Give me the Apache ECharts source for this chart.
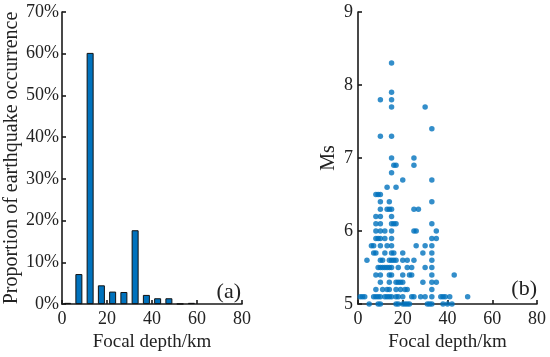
<!DOCTYPE html>
<html><head><meta charset="utf-8">
<script src="https://cdn.jsdelivr.net/npm/echarts@6/dist/echarts.min.js"></script>
<style>html,body{margin:0;padding:0;background:#fff}#c{width:550px;height:357px}</style>
</head><body><div id="c"></div>
<script>
// Histogram (a): bin centres (km) and proportion (%)
const binCenters = [2.5, 7.5, 12.5, 17.5, 22.5, 27.5, 32.5, 37.5, 42.5, 47.5, 52.5, 57.5];
const binPercent = [0.3, 7.2, 60.2, 4.5, 3.0, 2.9, 17.7, 2.2, 1.4, 1.4, 0.1, 0.3];
const depthTicks = [0, 20, 40, 60, 80];
const percentTicks = [0, 10, 20, 30, 40, 50, 60, 70];

// Scatter (b): magnitude rows -> focal depths (km)
const msLevels = [8.3, 7.9, 7.8, 7.7, 7.4, 7.3, 7.0, 6.9, 6.8, 6.7, 6.6, 6.5, 6.4, 6.3, 6.2, 6.1, 6.0, 5.9, 5.8, 5.7, 5.6, 5.5, 5.4, 5.3, 5.2, 5.1, 5.0];
const depthsAtMs = [
  [15],
  [15],
  [10, 15],
  [15, 30],
  [33],
  [10, 15],
  [15, 25],
  [16, 17, 25],
  [15],
  [20, 33],
  [13, 17],
  [8, 9, 10],
  [10, 14, 33],
  [10, 13, 14, 15, 25, 27],
  [8, 10, 15],
  [8, 10, 15, 16, 17, 33],
  [8, 10, 12, 15, 25, 26, 35],
  [8, 9, 10, 12, 15, 33, 35],
  [6, 7, 10, 13, 15, 26, 30, 33],
  [7, 8, 12, 15, 16, 20, 29, 33],
  [4, 10, 11, 14, 15, 16, 17, 20, 22, 25, 33],
  [9, 10, 11, 12, 13, 14, 15, 18, 22, 24, 30, 33],
  [8, 10, 14, 15, 20, 23, 24, 33, 43],
  [10, 14, 17, 18, 19, 20, 29, 33, 35],
  [8, 11, 13, 14, 17, 19, 21, 22, 33],
  [1, 2, 3, 7, 8, 9, 10, 12, 13, 14, 15, 17, 18, 20, 24, 25, 28, 30, 33, 37, 38, 39, 41, 49],
  [5, 9, 10, 17, 18, 20, 21, 22, 23, 31, 32, 33, 38, 40, 42]
];
const msTicks = [5, 6, 7, 8, 9];

const histData = binCenters.map((c, i) => [c, binPercent[i]]);
const scatterData = [];
msLevels.forEach((m, i) => depthsAtMs[i].forEach(d => scatterData.push([d, m])));

const FONT = 'Liberation Serif';
const axisCol = '#1a1a1a';
const blue = '#0072BD';
const baseAxis = {
  axisLine: {show: true, onZero: false, lineStyle: {color: axisCol, width: 1.6}},
  axisTick: {show: true, inside: true, length: 4, lineStyle: {color: axisCol, width: 1.6}},
  splitLine: {show: false},
  axisLabel: {color: '#222', fontFamily: FONT, fontSize: 18},
  nameTextStyle: {color: '#222', fontFamily: FONT, fontSize: 19}
};
const yNameStyle = {color: '#222', fontFamily: FONT, fontSize: 20};

const chart = echarts.init(document.getElementById('c'), null, {renderer: 'canvas'});
chart.setOption({
  animation: false,
  backgroundColor: '#fff',
  grid: [
    {left: 62, top: 12, width: 180, height: 295},
    {left: 358, top: 12, width: 179, height: 295}
  ],
  xAxis: [
    Object.assign({}, baseAxis, {
      type: 'value', gridIndex: 0, min: depthTicks[0], max: depthTicks[depthTicks.length - 1], interval: 20,
      name: 'Focal depth/km', nameLocation: 'middle', nameGap: 28,
      axisLabel: Object.assign({}, baseAxis.axisLabel, {margin: 6})
    }),
    Object.assign({}, baseAxis, {
      type: 'value', gridIndex: 1, min: depthTicks[0], max: depthTicks[depthTicks.length - 1], interval: 20,
      name: 'Focal depth/km', nameLocation: 'middle', nameGap: 28,
      axisLabel: Object.assign({}, baseAxis.axisLabel, {margin: 6})
    })
  ],
  yAxis: [
    Object.assign({}, baseAxis, {
      type: 'value', gridIndex: 0, min: percentTicks[0], max: percentTicks[percentTicks.length - 1], interval: 10,
      name: 'Proportion of earthquake occurrence', nameLocation: 'middle', nameGap: 37,
      nameTextStyle: yNameStyle,
      axisLabel: Object.assign({}, baseAxis.axisLabel, {margin: 3, formatter: '{value}%'})
    }),
    Object.assign({}, baseAxis, {
      type: 'value', gridIndex: 1, min: msTicks[0], max: msTicks[msTicks.length - 1], interval: 1,
      name: 'Ms', nameLocation: 'middle', nameGap: 19,
      nameTextStyle: yNameStyle,
      axisLabel: Object.assign({}, baseAxis.axisLabel, {margin: 5})
    })
  ],
  series: [
    {
      type: 'bar', xAxisIndex: 0, yAxisIndex: 0, data: histData, barWidth: 7,
      itemStyle: {color: blue, borderColor: '#111', borderWidth: 1}
    },
    {
      type: 'scatter', xAxisIndex: 1, yAxisIndex: 1, data: scatterData, symbolSize: 5.5, clip: false,
      itemStyle: {color: blue}
    }
  ],
  graphic: [
    {type: 'text', right: 309, top: 281, style: {text: '(a)', font: '22px "Liberation Serif"', fill: '#222'}},
    {type: 'text', right: 13, top: 278, style: {text: '(b)', font: '22px "Liberation Serif"', fill: '#222'}}
  ]
});
</script>
</body></html>
